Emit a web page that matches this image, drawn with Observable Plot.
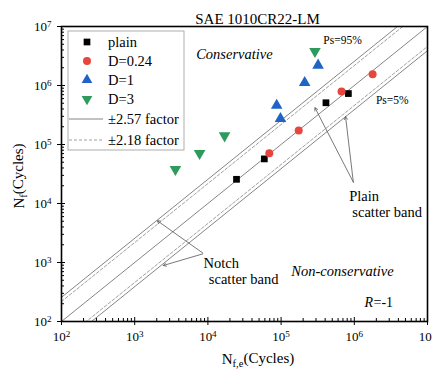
<!DOCTYPE html>
<html><head><meta charset="utf-8">
<script src="https://cdn.jsdelivr.net/npm/d3@7"></script>
<script src="https://cdn.jsdelivr.net/npm/@observablehq/plot@0.6"></script>
<style>
body{margin:0;background:#fff;}
#chart{position:relative;width:432px;height:372px;}
#chart svg text{font-family:"Liberation Serif", "Times New Roman", serif !important;}
</style></head>
<body><div id="chart"></div>
<script>
const title = "SAE 1010CR22-LM";
// Experimental life N_f,e vs predicted life N_f
const plainX = [2.46e4, 5.9e4, 4.1e5, 8.3e5];
const plainY = [2.57e4, 5.7e4, 5.1e5, 7.3e5];
const d024X = [6.9e4, 1.74e5, 6.7e5, 1.78e6];
const d024Y = [7.1e4, 1.73e5, 7.9e5, 1.55e6];
const d1X = [8.7e4, 9.8e4, 2.1e5, 3.2e5];
const d1Y = [4.6e5, 2.75e5, 1.12e6, 2.2e6];
const d3X = [3.6e3, 7.7e3, 1.69e4, 2.9e5];
const d3Y = [3.8e4, 7.1e4, 1.41e5, 3.8e6];
const solidFactors = [2.57, 1, 1/2.57];
const dashedFactors = [2.18, 1/2.18];
const majorTicks = [1e2, 1e3, 1e4, 1e5, 1e6, 1e7];
const minorMult = [2,3,4,5,6,7,8,9];
const seriesNames = ["plain", "D=0.24", "D=1", "D=3"];
const lineNames = ["\u00b12.57 factor", "\u00b12.18 factor"];

const minorTicks = [];
for (let k = 2; k < 7; k++) for (const m of minorMult) minorTicks.push(m * 10 ** k);
const xEnds = [1e2, 1e7];
const bandRows = fs => fs.flatMap((f, i) => xEnds.map(x => ({id: i, x, y: x * f})));
const pts = (xs, ys) => xs.map((x, i) => ({x, y: ys[i]}));

const cRed = "#e8453c", cBlue = "#1f63c6", cGreen = "#2e9a5c";
const font = "Liberation Serif";
const supFmt = d => "10^" + Math.round(Math.log10(d));

const svg = Plot.plot({
  width: 432, height: 372,
  marginTop: 26, marginRight: 5, marginBottom: 51, marginLeft: 61,
  style: {fontFamily: "'Liberation Serif', serif", fontSize: "13px", background: "white", color: "black"},
  x: {type: "log", domain: [1e2, 1e7], axis: null},
  y: {type: "log", domain: [1e2, 1e7], axis: null},
  marks: [
    Plot.line(bandRows(solidFactors), {x: "x", y: "y", z: "id", stroke: "#666", strokeWidth: 0.8, clip: true}),
    Plot.line(bandRows(dashedFactors), {x: "x", y: "y", z: "id", stroke: "#888", strokeWidth: 0.8, strokeDasharray: "3,2", clip: true}),
    Plot.axisX(majorTicks, {anchor: "bottom", tickSize: 4, tickPadding: 6, tickFormat: supFmt, label: null, fontSize: 13, stroke: "black"}),
    Plot.axisX(majorTicks, {anchor: "bottom", tickSize: 4, dy: -4, text: null, label: null}),
    Plot.axisX(minorTicks, {anchor: "bottom", tickSize: 3, dy: -3, text: null, label: null}),
    Plot.axisY(majorTicks, {anchor: "left", tickSize: 4, tickPadding: 6, tickFormat: supFmt, label: null, fontSize: 13}),
    Plot.axisY(majorTicks, {anchor: "left", tickSize: 4, dx: 4, text: null, label: null}),
    Plot.axisY(minorTicks, {anchor: "left", tickSize: 3, dx: 3, text: null, label: null}),
    Plot.frame({stroke: "black", strokeWidth: 1.6}),
    Plot.arrow([
      {x1: 9.7e5, y1: 2.3e4, x2: 2.9e5, y2: 4.2e5},
      {x1: 9.7e5, y1: 2.3e4, x2: 7.6e5, y2: 2.96e5},
      {x1: 8.5e3, y1: 1.45e3, x2: 2.04e3, y2: 5.1e3},
      {x1: 8.5e3, y1: 1.4e3, x2: 2.46e3, y2: 890}
    ], {x1: "x1", y1: "y1", x2: "x2", y2: "y2", stroke: "#555", strokeWidth: 0.8, headLength: 6}),
    Plot.dot(pts(plainX, plainY), {x: "x", y: "y", symbol: "square", r: 3.8, fill: "black"}),
    Plot.dot(pts(d024X, d024Y), {x: "x", y: "y", symbol: "circle", r: 4, fill: cRed}),
    Plot.dot(pts(d1X, d1Y), {x: "x", y: "y", symbol: "triangle", r: 4.3, fill: cBlue}),
    Plot.dot(pts(d3X, d3Y), {x: "x", y: "y", symbol: "triangle", r: 4.3, fill: cGreen, rotate: 180}),
    Plot.text(["Conservative"], {x: 2.3e4, y: 3.4e6, fontStyle: "italic", fontSize: 14.5}),
    Plot.text(["Non-conservative"], {x: 6.9e5, y: 710, fontStyle: "italic", fontSize: 14.5}),
    Plot.text(["Ps=95%"], {x: 6.9e5, y: 5.8e6, fontSize: 11.5}),
    Plot.text(["Ps=5%"], {x: 3.3e6, y: 5.6e5, fontSize: 11.5}),
    Plot.text(["Plain"], {x: 8.5e5, y: 1.32e4, textAnchor: "start", fontSize: 14.5}),
    Plot.text(["scatter band"], {x: 9.4e5, y: 7.2e3, textAnchor: "start", fontSize: 14.5}),
    Plot.text(["Notch"], {x: 8.7e3, y: 955, textAnchor: "start", fontSize: 14.5}),
    Plot.text(["scatter band"], {x: 1.03e4, y: 515, textAnchor: "start", fontSize: 14.5}),
    Plot.text(["R"], {x: 1.38e6, y: 209, textAnchor: "start", fontStyle: "italic", fontSize: 14}),
    Plot.text(["=-1"], {x: 1.38e6, y: 209, textAnchor: "start", dx: 9, fontSize: 14}),
    Plot.text([title], {frameAnchor: "top", dx: 13, dy: -13, fontSize: 15})
  ]
});
document.getElementById("chart").appendChild(svg);

const s = d3.select(svg);
// superscript tick labels
s.selectAll("text").each(function() {
  const t = this.textContent;
  const m = /^10\^(\d+)$/.exec(t);
  if (!m) return;
  const el = d3.select(this);
  el.text("10");
  el.append("tspan").attr("dy", "-0.45em").attr("font-size", "70%").text(m[1]);
});

// axis labels
const xl = s.append("text").attr("x", 258).attr("y", 364).attr("text-anchor", "middle")
  .attr("font-family", font).attr("font-size", 15);
xl.append("tspan").text("N");
xl.append("tspan").attr("dy", "0.3em").attr("font-size", "70%").text("f,e");
xl.append("tspan").attr("dy", "-0.3em").text("(Cycles)");

const yl = s.append("text").attr("transform", "translate(24,176) rotate(-90)").attr("text-anchor", "middle")
  .attr("font-family", font).attr("font-size", 15);
yl.append("tspan").text("N");
yl.append("tspan").attr("dy", "0.3em").attr("font-size", "70%").text("f");
yl.append("tspan").attr("dy", "-0.3em").text("(Cycles)");

// legend
const lg = s.append("g").attr("font-family", font).attr("font-size", 14.5).attr("text-anchor", "start");
lg.append("rect").attr("x", 68).attr("y", 31).attr("width", 116).attr("height", 119)
  .attr("fill", "white").attr("stroke", "#999").attr("stroke-width", 0.8);
const sym = [
  {t: d3.symbolSquare, size: 45, fill: "black", rot: 0},
  {t: d3.symbolCircle, size: 50, fill: cRed, rot: 0},
  {t: d3.symbolTriangle, size: 50, fill: cBlue, rot: 0},
  {t: d3.symbolTriangle, size: 50, fill: cGreen, rot: 180}
];
const rowsY = [42, 61, 80, 99];
seriesNames.forEach((n, i) => {
  lg.append("path").attr("d", d3.symbol(sym[i].t, sym[i].size)())
    .attr("transform", `translate(87,${rowsY[i]}) rotate(${sym[i].rot})`).attr("fill", sym[i].fill);
  lg.append("text").attr("x", 108).attr("y", rowsY[i]).attr("dy", "0.35em").attr("text-anchor", "start").text(n);
});
const lineY = [119, 140];
lineNames.forEach((n, i) => {
  lg.append("line").attr("x1", 69).attr("x2", 103).attr("y1", lineY[i]).attr("y2", lineY[i])
    .attr("stroke", i ? "#888" : "#666").attr("stroke-width", 0.8).attr("stroke-dasharray", i ? "3,2" : null);
  lg.append("text").attr("x", 108).attr("y", lineY[i]).attr("dy", "0.35em").attr("text-anchor", "start").text(n);
});
</script></body></html>
